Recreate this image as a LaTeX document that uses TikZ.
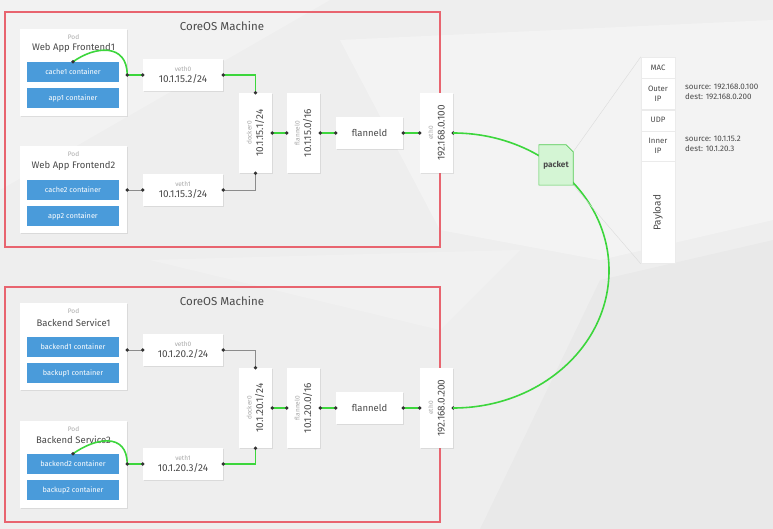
\documentclass[tikz,border=0pt]{standalone}
\usepackage{fontspec}
\setmainfont{Fira Sans}
\usepackage{graphicx}
\usepackage{tikz}
\usetikzlibrary{positioning,shadows,calc}
\usepackage{xcolor}

\definecolor{bgpaper}{HTML}{EEEEEE}
\definecolor{machred}{HTML}{E8646F}
\definecolor{ctrblue}{HTML}{4A9BDA}
\definecolor{wiregreen}{HTML}{3CD63C}
\definecolor{wiregray}{HTML}{8C8C8C}
\definecolor{pktfill}{HTML}{D4F5D4}
\definecolor{pktline}{HTML}{52CC52}
\definecolor{txtdark}{HTML}{4A4A4A}
\definecolor{txtlight}{HTML}{A8A8A8}
\definecolor{dotgray}{HTML}{333333}

\newcommand{\jdot}[1]{\fill[dotgray] (#1) circle (1.9pt);}
\newcommand{\smalllbl}[1]{{\fontsize{6.5}{6.5}\selectfont\color{txtlight}#1}}

\tikzset{
  machine/.style={draw=machred, line width=2pt},
  machtitle/.style={font=\fontsize{11.5}{13}\selectfont, text=txtdark},
  card/.style={fill=white, inner sep=0pt,
    drop shadow={shadow xshift=0.7pt, shadow yshift=-0.9pt, opacity=0.18}},
  podbox/.style={card, minimum width=107pt, minimum height=87pt},
  podlbl/.style={font=\fontsize{6.5}{7}\selectfont, text=txtlight},
  podname/.style={font=\fontsize{9.5}{11}\selectfont, text=txtdark},
  ctr/.style={fill=ctrblue, text=white, font=\fontsize{7.3}{8}\selectfont,
    minimum width=92pt, minimum height=20pt, inner sep=0pt},
  vethbox/.style={card, minimum width=80pt, minimum height=32pt, align=center,
    font=\fontsize{10}{11.5}\selectfont, text=txtdark},
  tallbox/.style={card, minimum width=33pt, minimum height=80pt},
  vlbl/.style={rotate=90, align=center, font=\fontsize{10}{11.5}\selectfont, text=txtdark},
  flbox/.style={card, minimum width=67pt, minimum height=32pt,
    font=\fontsize{9.5}{11}\selectfont, text=txtdark},
  wire/.style={draw=wiregreen, line width=1.6pt},
  idle/.style={draw=wiregray, line width=0.7pt},
  hdr/.style={fill=white, draw=black!8, line width=0.4pt, minimum width=34pt,
    inner sep=0pt, align=center, font=\fontsize{7.8}{10}\selectfont, text=txtdark},
  note/.style={anchor=west, align=left, font=\fontsize{8}{10}\selectfont,
    text=txtdark, inner sep=0pt},
}

\begin{document}
\begin{tikzpicture}[x=1pt, y=-1pt]
  % Background
  \fill[bgpaper] (0,0) rectangle (773,529);
  \useasboundingbox (0,0) rectangle (773,529);
  \fill[white, opacity=0.25] (0,0) -- (330,0) -- (0,190) -- cycle;
  \fill[white, opacity=0.35] (340,40) -- (773,20) -- (773,220) -- (600,260) -- (440,230) -- cycle;
  \fill[white, opacity=0.2] (150,260) -- (520,250) -- (440,330) -- cycle;
  \fill[black, opacity=0.02] (600,280) -- (773,240) -- (773,529) -- (480,529) -- cycle;

  % Machines
  \draw[machine] (5,12) rectangle (440,247);
  \node[machtitle] (mach1t) at (222,26) {CoreOS Machine};
  \draw[machine] (5,287) rectangle (440,522);
  \node[machtitle] (mach2t) at (222,301) {CoreOS Machine};

  % Pods, upper machine
  \node[podbox] (pod1) at (73.5,72.5) {};
  \node[podlbl] (pod1l) at (73.5,37) {Pod};
  \node[podname] (pod1n) at (73.5,48) {Web App Frontend1};
  \node[ctr] (cache1) at (73,72) {cache1 container};
  \node[ctr] (app1) at (73,98) {app1 container};
  \node[podbox] (pod2) at (73.5,189.5) {};
  \node[podlbl] (pod2l) at (73.5,154) {Pod};
  \node[podname] (pod2n) at (73.5,166) {Web App Frontend2};
  \node[ctr] (cache2) at (73,190) {cache2 container};
  \node[ctr] (app2) at (73,216) {app2 container};

  % Interfaces, upper machine
  \node[vethbox] (veth0a) at (183,75) {\smalllbl{veth0}\\10.1.15.2/24};
  \node[vethbox] (veth1a) at (183,190) {\smalllbl{veth1}\\10.1.15.3/24};
  \node[tallbox] (dock1) at (255.5,133) {};
  \node[vlbl] (dock1l) at (dock1) {\smalllbl{docker0}\\10.1.15.1/24};
  \node[tallbox] (flan1) at (303.5,133) {};
  \node[vlbl] (flan1l) at (flan1) {\smalllbl{flannel0}\\10.1.15.0/16};
  \node[flbox] (fld1) at (369.5,133) {flanneld};
  \node[tallbox] (eth1) at (436.5,133) {};
  \node[vlbl] (eth1l) at (eth1) {\smalllbl{eth0}\\192.168.0.100};

  % Pods, lower machine
  \node[podbox] (pod3) at (73.5,346.5) {};
  \node[podlbl] (pod3l) at (73.5,311) {Pod};
  \node[podname] (pod3n) at (73.5,323) {Backend Service1};
  \node[ctr] (backend1) at (73,347) {backend1 container};
  \node[ctr] (backup1) at (73,373) {backup1 container};
  \node[podbox] (pod4) at (73.5,464.5) {};
  \node[podlbl] (pod4l) at (73.5,429) {Pod};
  \node[podname] (pod4n) at (73.5,440) {Backend Service2};
  \node[ctr] (backend2) at (73,464) {backend2 container};
  \node[ctr] (backup2) at (73,490) {backup2 container};

  % Interfaces, lower machine
  \node[vethbox] (veth0b) at (183,350) {\smalllbl{veth0}\\10.1.20.2/24};
  \node[vethbox] (veth1b) at (183,464) {\smalllbl{veth1}\\10.1.20.3/24};
  \node[tallbox] (dock2) at (255.5,408) {};
  \node[vlbl] (dock2l) at (dock2) {\smalllbl{docker0}\\10.1.20.1/24};
  \node[tallbox] (flan2) at (303.5,408) {};
  \node[vlbl] (flan2l) at (flan2) {\smalllbl{flannel0}\\10.1.20.0/16};
  \node[flbox] (fld2) at (369.5,408) {flanneld};
  \node[tallbox] (eth2) at (436.5,408) {};
  \node[vlbl] (eth2l) at (eth2) {\smalllbl{eth0}\\192.168.0.200};

  % Links, upper machine
  \draw[wire] (cache1.north) .. controls +(22,-16) and +(0,-32) .. (pod1.east |- veth0a.west);
  \draw[wire] (pod1.east |- veth0a.west) -- (veth0a.west);
  \draw[wire] (veth0a.east) -| (dock1.north);
  \draw[idle] (pod2.east |- veth1a.west) -- (veth1a.west);
  \draw[idle] (veth1a.east) -| (dock1.south);
  \draw[wire] (dock1.east) -- (flan1.west);
  \draw[wire] (flan1.east) -- (fld1.west);
  \draw[wire] (fld1.east) -- (eth1.west);
  \jdot{cache1.north} \jdot{pod1.east |- veth0a.west} \jdot{veth0a.west}
  \jdot{veth0a.east} \jdot{dock1.north}
  \jdot{pod2.east |- veth1a.west} \jdot{veth1a.west} \jdot{veth1a.east} \jdot{dock1.south}
  \jdot{dock1.east} \jdot{flan1.west} \jdot{flan1.east} \jdot{fld1.west}
  \jdot{fld1.east} \jdot{eth1.west} \jdot{eth1.east}

  % Links, lower machine
  \draw[idle] (pod3.east |- veth0b.west) -- (veth0b.west);
  \draw[idle] (veth0b.east) -| (dock2.north);
  \draw[wire] (backend2.north) .. controls +(22,-16) and +(0,-32) .. (pod4.east |- veth1b.west);
  \draw[wire] (pod4.east |- veth1b.west) -- (veth1b.west);
  \draw[wire] (veth1b.east) -| (dock2.south);
  \draw[wire] (dock2.east) -- (flan2.west);
  \draw[wire] (flan2.east) -- (fld2.west);
  \draw[wire] (fld2.east) -- (eth2.west);
  \jdot{pod3.east |- veth0b.west} \jdot{veth0b.west} \jdot{veth0b.east} \jdot{dock2.north}
  \jdot{backend2.north} \jdot{pod4.east |- veth1b.west} \jdot{veth1b.west}
  \jdot{veth1b.east} \jdot{dock2.south}
  \jdot{dock2.east} \jdot{flan2.west} \jdot{flan2.east} \jdot{fld2.west}
  \jdot{fld2.east} \jdot{eth2.west} \jdot{eth2.east}

  % Tunnel between the hosts
  \coordinate (bend) at (609,270.5);
  \draw[wire] (eth1.east) .. controls +(86,0) and +(0,-76) .. (bend)
    .. controls +(0,76) and +(86,0) .. (eth2.east);

  % Packet headers
  \node[hdr, minimum height=21pt] (mac) at (658,67.5) {MAC};
  \node[hdr, minimum height=31pt, below=0pt of mac] (outer) {Outer\\IP};
  \node[hdr, minimum height=21pt, below=0pt of outer] (udp) {UDP};
  \node[hdr, minimum height=30pt, below=0pt of udp] (inner) {Inner\\IP};
  \node[hdr, minimum height=102pt, below=0pt of inner,
    font=\fontsize{10}{11}\selectfont] (payload) {\rotatebox{90}{Payload}};
  \node[note] (outerip) at (685,92) {source: 192.168.0.100\\dest: 192.168.0.200};
  \node[note] (innerip) at (685,144) {source: 10.1.15.2\\dest: 10.1.20.3};

  % Packet
  \node[minimum width=34pt, minimum height=40pt, inner sep=0pt] (packet) at (556,165) {};
  \draw[black!14, line width=0.4pt] ($(packet.north east)+(0,7)$) -- (mac.north west);
  \draw[black!14, line width=0.4pt] (packet.south east) -- (payload.south west);
  \filldraw[fill=pktfill, draw=pktline, line width=0.6pt]
    (packet.north west) -- ($(packet.north east)+(-7,0)$) -- ($(packet.north east)+(0,7)$)
    -- (packet.south east) -- (packet.south west) -- cycle;
  \node[font=\bfseries\fontsize{8.2}{9}\selectfont, text=txtdark] (packetl) at (packet) {packet};
\end{tikzpicture}
\end{document}
